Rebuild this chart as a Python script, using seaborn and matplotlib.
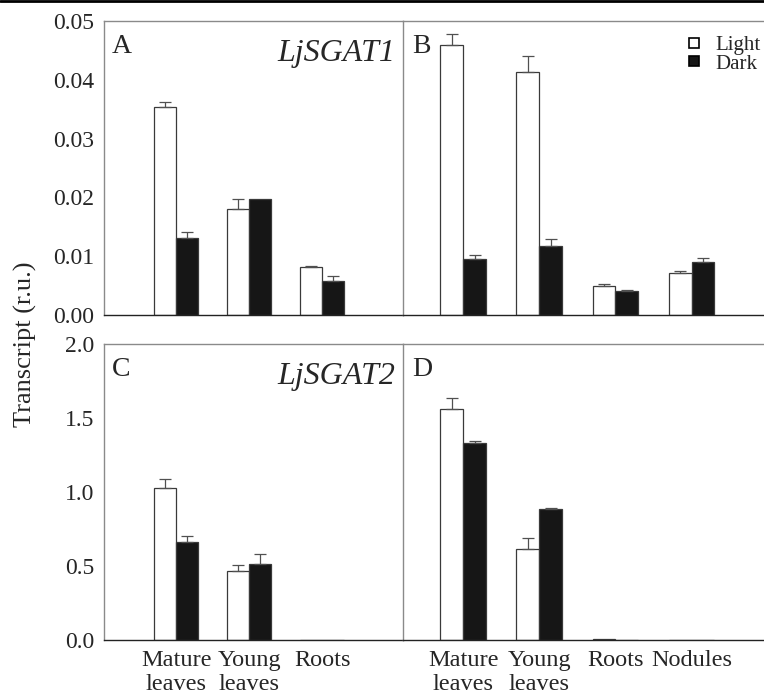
import numpy as np
import pandas as pd
import matplotlib
matplotlib.use("Agg")
import matplotlib.pyplot as plt
import seaborn as sns
from matplotlib.lines import Line2D

# ---------------- data ----------------
cats3 = ["Mature\nleaves", "Young\nleaves", "Roots"]
cats4 = ["Mature\nleaves", "Young\nleaves", "Roots", "Nodules"]
conditions = ["Light", "Dark"]

# Panel A (LjSGAT1, first experiment)
a_light = [0.0353, 0.0181, 0.0082]
a_dark = [0.0131, 0.0198, 0.0058]
a_light_err = [0.0009, 0.0017, 0.0002]
a_dark_err = [0.0011, 0.0, 0.0009]

# Panel B (LjSGAT1, second experiment)
b_light = [0.0459, 0.0414, 0.0050, 0.0071]
b_dark = [0.0095, 0.0117, 0.0040, 0.0090]
b_light_err = [0.0019, 0.0027, 0.0002, 0.0003]
b_dark_err = [0.0007, 0.0013, 0.0003, 0.0007]

# Panel C (LjSGAT2, first experiment)
c_light = [1.025, 0.468, 0.003]
c_dark = [0.660, 0.516, 0.002]
c_light_err = [0.065, 0.037, 0.0]
c_dark_err = [0.043, 0.063, 0.0]

# Panel D (LjSGAT2, second experiment)
d_light = [1.561, 0.617, 0.004, 0.002]
d_dark = [1.333, 0.885, 0.002, 0.002]
d_light_err = [0.072, 0.072, 0.0, 0.0]
d_dark_err = [0.009, 0.005, 0.0, 0.0]

# ---------------- style ----------------
sns.set_style("white")
plt.rcParams["font.family"] = ["Liberation Serif", "DejaVu Serif"]

W, H = 764, 697
fig = plt.figure(figsize=(W / 100, H / 100), dpi=100)

def fx(px):
    return px / W

def fy(py):
    return 1 - py / H

ax_a = fig.add_axes([fx(104), fy(315), fx(403) - fx(104), fy(21) - fy(315)])
ax_b = fig.add_axes([fx(403), fy(315), 1 - fx(403), fy(21) - fy(315)])
ax_c = fig.add_axes([fx(104), fy(640), fx(403) - fx(104), fy(344) - fy(640)])
ax_d = fig.add_axes([fx(403), fy(640), 1 - fx(403), fy(344) - fy(640)])

palette = {"Light": "white", "Dark": "#161616"}
EDGE = "#3a3a3a"
GRAY = "#8a8a8a"


def draw(ax, cats, light, dark, light_err, dark_err):
    df = pd.DataFrame({
        "Tissue": cats + cats,
        "Condition": ["Light"] * len(cats) + ["Dark"] * len(cats),
        "Value": list(light) + list(dark),
    })
    sns.barplot(data=df, x="Tissue", y="Value", hue="Condition",
                hue_order=conditions, order=cats, palette=palette,
                width=0.6, errorbar=None, edgecolor=EDGE, linewidth=0.9,
                legend=False, ax=ax, saturation=1)
    errs = list(light_err) + list(dark_err)
    bars = [p for p in ax.patches]
    xs = [p.get_x() + p.get_width() / 2 for p in bars]
    hs = [p.get_height() for p in bars]
    for x, h, e in zip(xs, hs, errs):
        if e > 0:
            ax.errorbar(x, h, yerr=[[0], [e]], fmt="none", ecolor="#505050",
                        elinewidth=0.9, capsize=4, capthick=0.9)
    ax.set_xlabel("")
    ax.set_ylabel("")
    for side in ["left", "top"]:
        ax.spines[side].set_color(GRAY)
        ax.spines[side].set_linewidth(1.0)
    ax.spines["bottom"].set_color("#222222")
    ax.spines["bottom"].set_linewidth(1.0)
    ax.spines["right"].set_visible(False)
    ax.tick_params(axis="x", direction="out", length=4, width=0.8,
                   color="#555555", labelsize=17.5, pad=3)
    ax.tick_params(axis="y", length=0, labelsize=17, pad=7)


draw(ax_a, cats3, a_light, a_dark, a_light_err, a_dark_err)
draw(ax_b, cats4, b_light, b_dark, b_light_err, b_dark_err)
draw(ax_c, cats3, c_light, c_dark, c_light_err, c_dark_err)
draw(ax_d, cats4, d_light, d_dark, d_light_err, d_dark_err)

for ax in (ax_a, ax_c):
    ax.set_xlim(-0.99, 3.11)
for ax in (ax_b, ax_d):
    ax.set_xlim(-0.79, 3.95)

for ax in (ax_a, ax_b):
    ax.set_ylim(0, 0.05)
    ax.set_yticks([0, 0.01, 0.02, 0.03, 0.04, 0.05])
    ax.set_xticklabels([])
for ax in (ax_c, ax_d):
    ax.set_ylim(0, 2.0)
    ax.set_yticks([0, 0.5, 1.0, 1.5, 2.0])
ax_a.set_yticklabels(["0.00", "0.01", "0.02", "0.03", "0.04", "0.05"])
ax_c.set_yticklabels(["0.0", "0.5", "1.0", "1.5", "2.0"])
ax_b.set_yticklabels([])
ax_d.set_yticklabels([])
ax_c.set_xticks(range(len(cats3)))
ax_c.set_xticklabels(cats3, linespacing=1.2)
ax_d.set_xticks(range(len(cats4)))
ax_d.set_xticklabels(cats4, linespacing=1.2)

# panel letters and gene names
ax_a.text(0.027, 0.955, "A", transform=ax_a.transAxes, fontsize=20, va="top", ha="left")
ax_b.text(0.025, 0.955, "B", transform=ax_b.transAxes, fontsize=20, va="top", ha="left")
ax_c.text(0.027, 0.955, "C", transform=ax_c.transAxes, fontsize=20, va="top", ha="left")
ax_d.text(0.025, 0.955, "D", transform=ax_d.transAxes, fontsize=20, va="top", ha="left")
ax_a.text(0.975, 0.94, "LjSGAT1", transform=ax_a.transAxes, fontsize=23,
          style="italic", va="top", ha="right")
ax_c.text(0.975, 0.94, "LjSGAT2", transform=ax_c.transAxes, fontsize=23,
          style="italic", va="top", ha="right")

# legend
handles = [
    Line2D([], [], marker="s", linestyle="none", markersize=7.5,
           markerfacecolor=palette[c], markeredgecolor="black", markeredgewidth=1.2,
           label=c)
    for c in conditions
]
ax_b.legend(handles=handles, loc="upper right", bbox_to_anchor=(1.03, 1.0),
            frameon=False, fontsize=15, handletextpad=0.6, labelspacing=-0.05,
            handlelength=0.8, borderaxespad=0.3)

fig.text(fx(25), fy(344), "Transcript (r.u.)", rotation=90, fontsize=19,
         ha="center", va="center")

fig.add_artist(Line2D([0, 1], [fy(1), fy(1)], color="black", lw=2.0,
                      transform=fig.transFigure))

fig.savefig("out.png", dpi=100)
